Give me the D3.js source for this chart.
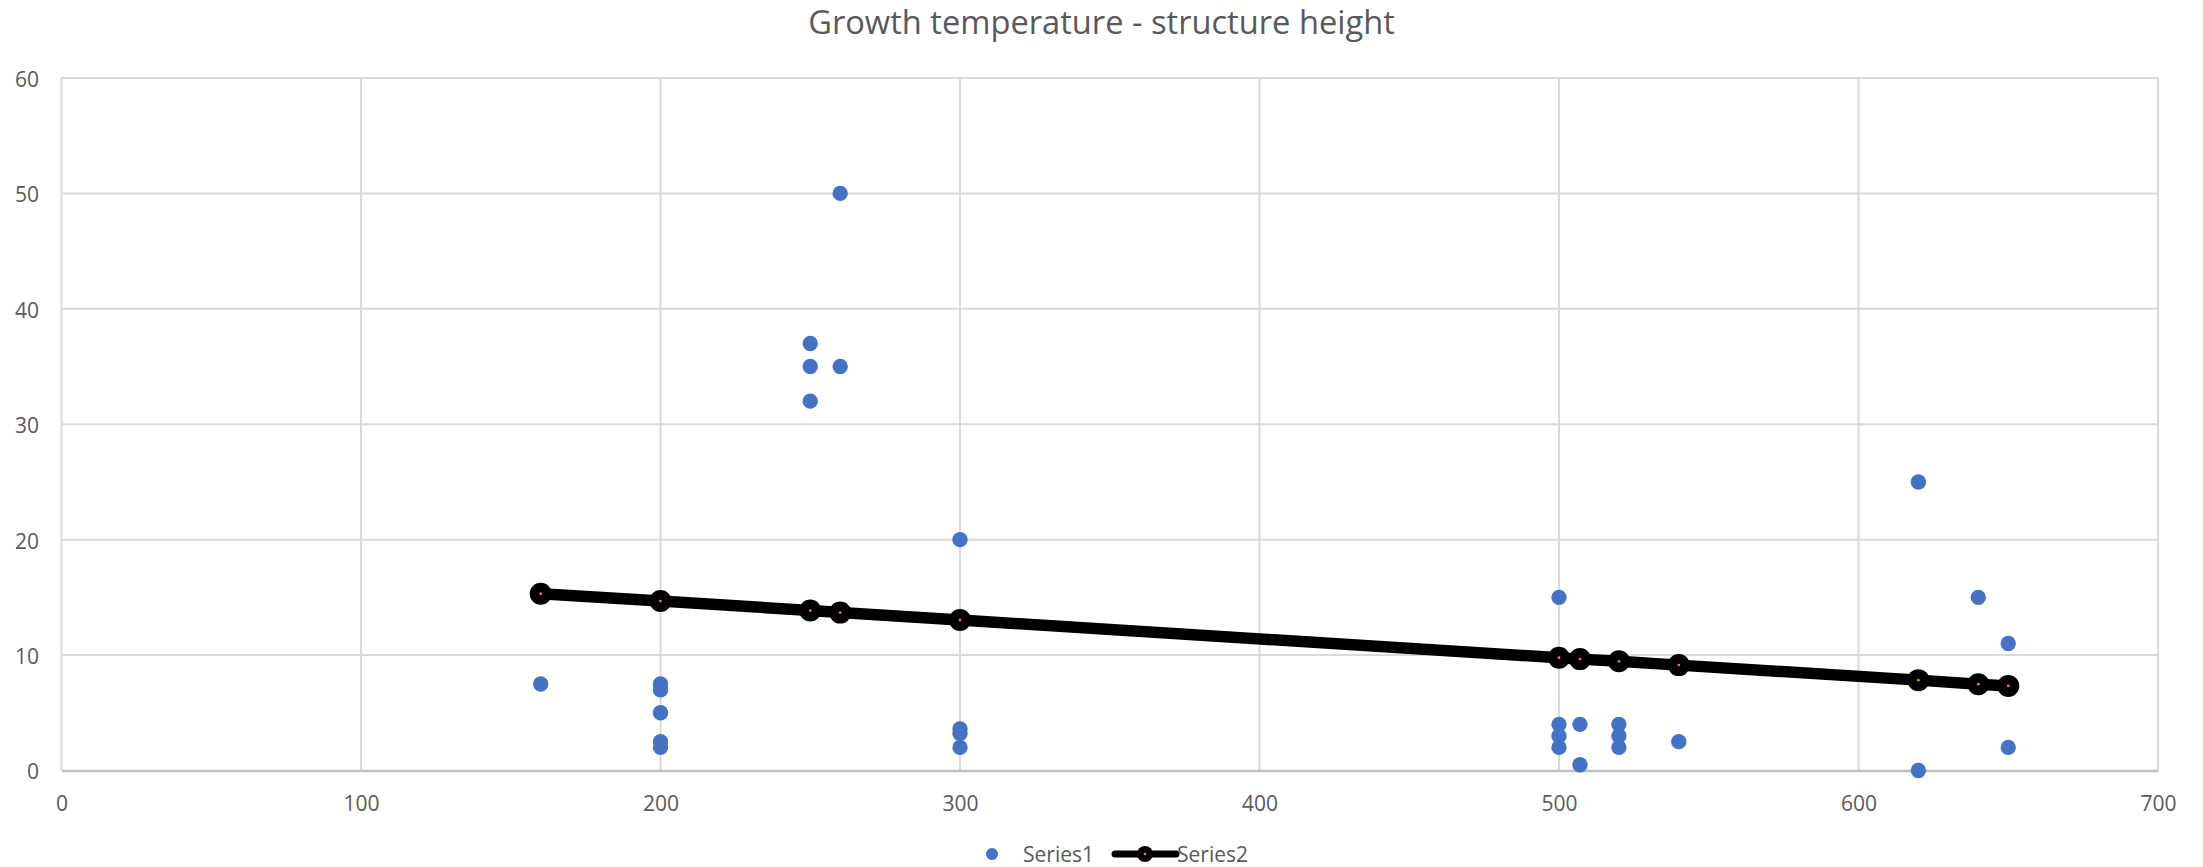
<!DOCTYPE html>
<html>
<head>
<meta charset="utf-8">
<script src="https://cdn.jsdelivr.net/npm/d3@7"></script>
<style>
  html, body { margin: 0; padding: 0; background: #fff; }
  svg { display: block; }
  text { font-family: "Open Sans", "Liberation Sans", sans-serif; fill: #595959; }
</style>
</head>
<body>
<svg id="chart" width="2203" height="867"></svg>
<script>
// ---- Data ----
const chartTitle = "Growth temperature - structure height";
const series1X = [160, 200, 200, 200, 200, 200, 250, 250, 250, 260, 260, 300, 300, 300, 300,
                  500, 500, 500, 500, 507, 507, 520, 520, 520, 540, 620, 620, 640, 650, 650];
const series1Y = [7.5, 7.5, 7, 5, 2.5, 2, 37, 35, 32, 50, 35, 20, 3.6, 3.2, 2,
                  15, 4, 3, 2, 4, 0.5, 4, 3, 2, 2.5, 25, 0, 15, 11, 2];
const series2X = [160, 200, 250, 260, 300, 500, 507, 520, 540, 620, 640, 650];
const series2Y = [15.32, 14.68, 13.86, 13.68, 13.04, 9.77, 9.65, 9.46, 9.13, 7.83, 7.48, 7.33];
const xTicks = [0, 100, 200, 300, 400, 500, 600, 700];
const yTicks = [0, 10, 20, 30, 40, 50, 60];
const legendNames = ["Series1", "Series2"];

// ---- Layout ----
const svg = d3.select("#chart");
const pLeft = 61.5, pRight = 2158, pTop = 78, pBottom = 770.5;
const x = d3.scaleLinear().domain([0, 700]).range([pLeft, pRight]);
const y = d3.scaleLinear().domain([0, 60]).range([pBottom, pTop]);

const blue = "#4472C4", orange = "#ED7D31";

// Gridlines
const grid = svg.append("g");
grid.selectAll("line.v").data(xTicks).join("line").attr("class", "v")
  .attr("x1", d => x(d)).attr("x2", d => x(d))
  .attr("y1", pTop).attr("y2", pBottom)
  .attr("stroke", "#d9d9d9").attr("stroke-width", 2);
grid.selectAll("line.h").data(yTicks.filter(d => d > 0)).join("line").attr("class", "h")
  .attr("x1", pLeft).attr("x2", pRight)
  .attr("y1", d => y(d)).attr("y2", d => y(d))
  .attr("stroke", "#d9d9d9").attr("stroke-width", 2);

// Bottom axis (line + labels)
const xAxis = d3.axisBottom(x).tickValues(xTicks).tickSize(0).tickPadding(0);
const gx = svg.append("g").attr("transform", `translate(0,${pBottom})`).call(xAxis);
gx.select(".domain").attr("stroke", "#bfbfbf").attr("stroke-width", 2.5);
gx.selectAll("text").attr("y", 40).attr("dy", 0)
  .style("font-size", "21px").style("fill", "#595959").style("font-family", "Open Sans, sans-serif");

// Left axis labels
const yAxis = d3.axisLeft(y).tickValues(yTicks).tickSize(0).tickPadding(0);
const gy = svg.append("g").attr("transform", `translate(39,0)`).call(yAxis);
gy.select(".domain").remove();
gy.selectAll("text").attr("x", 0).attr("dy", "0.40em")
  .style("font-size", "21px").style("fill", "#595959").style("font-family", "Open Sans, sans-serif");

// Series2 line + markers
const line = d3.line().x(d => x(d[0])).y(d => y(d[1]));
const s2 = series2X.map((v, i) => [v, series2Y[i]]);
svg.append("path").datum(s2).attr("d", line)
  .attr("fill", "none").attr("stroke", "#000").attr("stroke-width", 11.5)
  .attr("stroke-linejoin", "round");
svg.append("g").selectAll("circle").data(s2).join("circle")
  .attr("cx", d => x(d[0])).attr("cy", d => y(d[1])).attr("r", 11).attr("fill", "#000");
svg.append("g").selectAll("circle").data(s2).join("circle")
  .attr("cx", d => x(d[0])).attr("cy", d => y(d[1])).attr("r", 1.4).attr("fill", orange);

// Series1 points
const s1 = series1X.map((v, i) => [v, series1Y[i]]);
svg.append("g").selectAll("circle").data(s1).join("circle")
  .attr("cx", d => x(d[0])).attr("cy", d => y(d[1])).attr("r", 7.7).attr("fill", blue);

// Title (regular weight, fitted to the reference's width and cap height)
const titleG = svg.append("g");
const title = titleG.append("text").attr("x", 0).attr("y", 0)
  .attr("text-anchor", "middle").style("font-size", "30px").style("font-weight", 400)
  .text(chartTitle);
const tw = title.node().getComputedTextLength();
const tfs = 30 * 587 / tw;
title.style("font-size", tfs.toFixed(2) + "px");
const sy = 23 / (0.714 * tfs);
titleG.attr("transform", `translate(1101.5,34) scale(1,${sy.toFixed(3)})`);

// Legend
const lg = svg.append("g");
lg.append("circle").attr("cx", 992).attr("cy", 854).attr("r", 6).attr("fill", blue);
lg.append("text").attr("x", 1023).attr("y", 862).style("font-size", "21px").text(legendNames[0]);
lg.append("line").attr("x1", 1115).attr("x2", 1176).attr("y1", 854).attr("y2", 854)
  .attr("stroke", "#000").attr("stroke-width", 7).attr("stroke-linecap", "round");
lg.append("circle").attr("cx", 1145).attr("cy", 854).attr("r", 8).attr("fill", "#000");
lg.append("circle").attr("cx", 1145).attr("cy", 854).attr("r", 1.3).attr("fill", orange);
lg.append("text").attr("x", 1177).attr("y", 862).style("font-size", "21px").text(legendNames[1]);
</script>
</body>
</html>
